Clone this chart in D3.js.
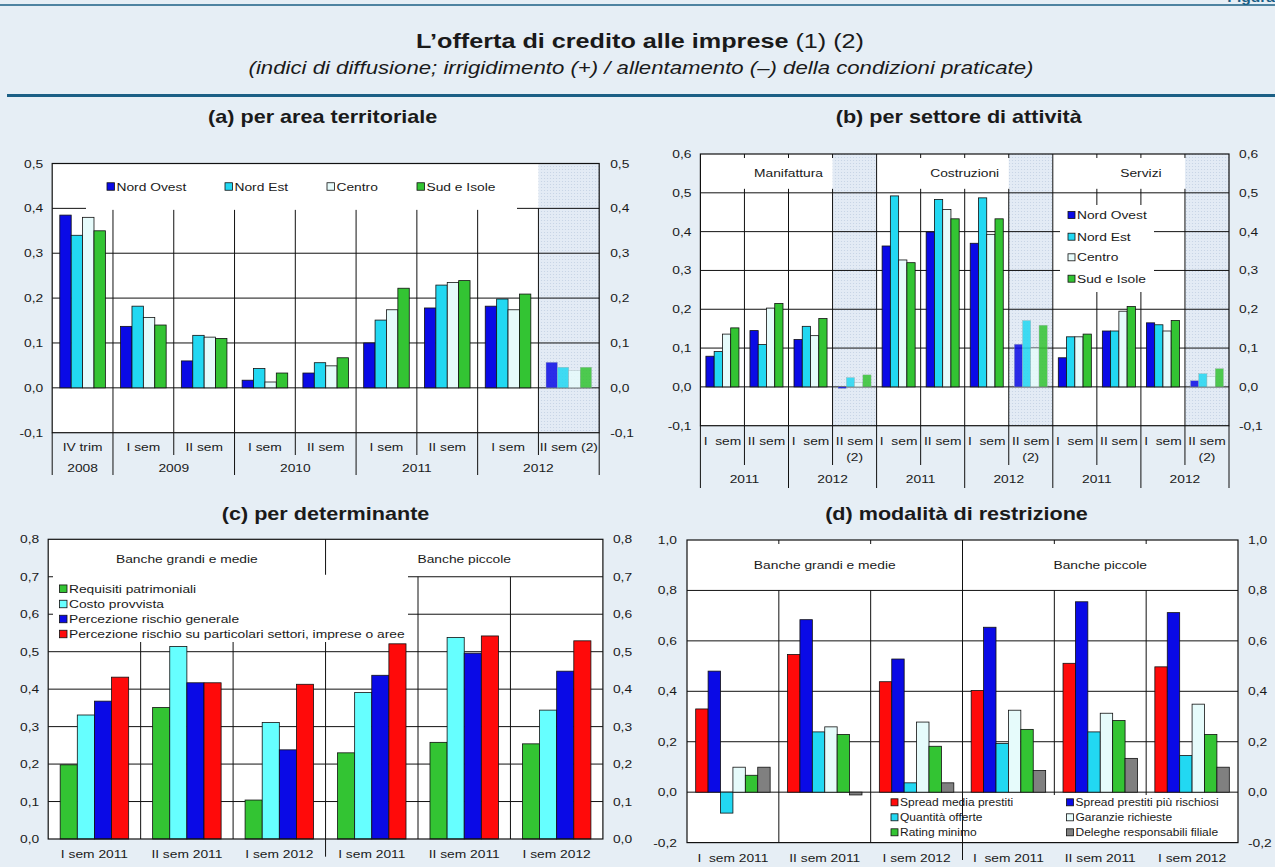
<!DOCTYPE html>
<html>
<head>
<meta charset="utf-8">
<script src="https://cdn.jsdelivr.net/npm/d3@7"></script>
<style>
  body { margin: 0; background: #e6eef5; }
  text { font-family: "Liberation Sans", Arial, sans-serif; fill: #1a1a1a; white-space: pre; }
</style>
</head>
<body>
<script>
// ---- (a) per area territoriale
const areaCats = ["IV trim", "I sem", "II sem", "I sem", "II sem", "I sem", "II sem", "I sem", "II sem (2)"];
const areaYears = ["2008", "2009", "2010", "2011", "2012"];
const areaYearOf = [0, 1, 1, 2, 2, 3, 3, 4, 4];
const regions = ["Nord Ovest", "Nord Est", "Centro", "Sud e Isole"];
const areaNordOvest = [0.385, 0.137, 0.060, 0.017, 0.033, 0.100, 0.178, 0.182, 0.057];
const areaNordEst   = [0.340, 0.182, 0.117, 0.043, 0.056, 0.151, 0.229, 0.198, 0.046];
const areaCentro    = [0.380, 0.157, 0.113, 0.013, 0.049, 0.174, 0.235, 0.174, 0.039];
const areaSud       = [0.350, 0.140, 0.110, 0.033, 0.067, 0.222, 0.239, 0.209, 0.046];
const areaTicks = [-0.1, 0, 0.1, 0.2, 0.3, 0.4, 0.5];

// ---- (b) per settore di attività
const sectors = ["Manifattura", "Costruzioni", "Servizi"];
const sectorSems = ["I  sem", "II sem", "I  sem", "II sem|(2)"];
const sectorYears = ["2011", "2012"];
const sectorNordOvest = [0.079, 0.145, 0.122, -0.004, 0.363, 0.399, 0.370, 0.110, 0.075, 0.144, 0.165, 0.016];
const sectorNordEst   = [0.091, 0.109, 0.156, 0.024, 0.492, 0.483, 0.487, 0.171, 0.129, 0.144, 0.160, 0.034];
const sectorCentro    = [0.136, 0.203, 0.132, 0.011, 0.327, 0.457, 0.393, 0.100, 0.129, 0.195, 0.144, 0.027];
const sectorSud       = [0.152, 0.215, 0.176, 0.031, 0.320, 0.433, 0.433, 0.159, 0.136, 0.207, 0.171, 0.047];
const sectorTicks = [-0.1, 0, 0.1, 0.2, 0.3, 0.4, 0.5, 0.6];

// ---- (c) per determinante
const bankGroups = ["Banche grandi e medie", "Banche piccole"];
const detCats = ["I sem 2011", "II sem 2011", "I sem 2012", "I sem 2011", "II sem 2011", "I sem 2012"];
const determinants = ["Requisiti patrimoniali", "Costo provvista", "Percezione rischio generale",
  "Percezione rischio su particolari settori, imprese o aree"];
const detRequisiti   = [0.198, 0.351, 0.104, 0.230, 0.258, 0.254];
const detCosto       = [0.331, 0.514, 0.311, 0.391, 0.538, 0.344];
const detRischioGen  = [0.368, 0.417, 0.238, 0.437, 0.496, 0.448];
const detRischioPart = [0.432, 0.417, 0.413, 0.521, 0.542, 0.529];
const detTicks = [0, 0.1, 0.2, 0.3, 0.4, 0.5, 0.6, 0.7, 0.8];

// ---- (d) modalità di restrizione
const modCats = ["I  sem 2011", "II sem 2011", "I sem 2012", "I  sem 2011", "II sem 2011", "I sem 2012"];
const modalities = ["Spread media prestiti", "Spread prestiti più rischiosi", "Quantità offerte",
  "Garanzie richieste", "Rating minimo", "Deleghe responsabili filiale"];
const modSpreadMedia     = [0.330, 0.546, 0.438, 0.403, 0.511, 0.497];
const modSpreadRischiosi = [0.480, 0.684, 0.528, 0.654, 0.755, 0.712];
const modQuantita        = [-0.083, 0.239, 0.037, 0.193, 0.239, 0.145];
const modGaranzie        = [0.099, 0.259, 0.278, 0.325, 0.313, 0.349];
const modRating          = [0.067, 0.229, 0.182, 0.249, 0.284, 0.229];
const modDeleghe         = [0.099, -0.011, 0.037, 0.086, 0.134, 0.099];
const modTicks = [-0.2, 0, 0.2, 0.4, 0.6, 0.8, 1.0];

// colours
const BLUE = "#0a0ae6", CYAN = "#22d8f2", PALE = "#e6fbfb", GREEN = "#33c433",
      LCYAN = "#66ffff", RED = "#ff0a0a", GREY = "#808080";
const LINE = "#111";

const W = 1275, H = 867;
const SX = 1.2; // the source picture is stretched sideways, text too

const svg = d3.select("body").append("svg")
  .attr("width", W).attr("height", H).style("display", "block");

svg.append("rect").attr("width", W).attr("height", H).attr("fill", "#e6eef5");

const defs = svg.append("defs");
const pat = defs.append("pattern").attr("id", "dots")
  .attr("width", 3).attr("height", 3).attr("patternUnits", "userSpaceOnUse");
pat.append("rect").attr("width", 3).attr("height", 3).attr("fill", "#e3ebf5");
pat.append("circle").attr("cx", 1.5).attr("cy", 1.5).attr("r", 0.55).attr("fill", "#c4d1e4");

function label(g, x, y, s, size, anchor = "middle") {
  return g.append("text")
    .attr("transform", `translate(${x},${y}) scale(${SX},1)`)
    .attr("text-anchor", anchor)
    .style("font-size", size + "px")
    .text(s);
}

function line(g, x1, y1, x2, y2, w = 1) {
  g.append("line").attr("x1", x1).attr("y1", y1).attr("x2", x2).attr("y2", y2)
    .attr("stroke", LINE).attr("stroke-width", w);
}

const fmt = v => d3.format(".1f")(v).replace(".", ",").replace("\u2212", "-");

function yLabels(g, y, ticks, x0, x1, dl, dr) {
  ticks.forEach(t => {
    label(g, x0 - dl, y(t) + 4, fmt(t), 11.5, "end");
    label(g, x1 + dr, y(t) + 4, fmt(t), 11.5, "start");
  });
}

function grid(g, y, ticks, x0, x1) {
  ticks.forEach(t => line(g, x0, y(t), x1, y(t)));
}

function bars(g, x, y, seriesList, colors, padOuter, shaded = []) {
  const sub = d3.scaleBand().domain(d3.range(seriesList.length))
    .range([0, x.bandwidth()]).paddingOuter(padOuter);
  seriesList.forEach((vals, s) => {
    g.append("g").selectAll("rect").data(vals).join("rect")
      .attr("x", (d, i) => x(i) + sub(s))
      .attr("width", sub.bandwidth())
      .attr("y", d => y(Math.max(0, d)))
      .attr("height", d => Math.abs(y(d) - y(0)))
      .attr("fill", colors[s])
      .attr("stroke", (d, i) => shaded.includes(i) ? "#9aa" : LINE)
      .attr("stroke-width", (d, i) => shaded.includes(i) ? 0.4 : 0.8)
      .attr("opacity", (d, i) => shaded.includes(i) ? 0.85 : 1);
  });
}

function legendItem(g, x, y, name, color, size, fs) {
  g.append("rect").attr("x", x).attr("y", y - size / 2).attr("width", size).attr("height", size)
    .attr("fill", color).attr("stroke", LINE).attr("stroke-width", 0.8);
  label(g, x + size + 2, y + fs * 0.36, name, fs, "start");
}

// ---- heading
svg.append("line").attr("x1", 0).attr("x2", W).attr("y1", 5).attr("y2", 5)
  .attr("stroke", "#1b5f85").attr("stroke-width", 1.5);
label(svg, 1275, 2, "Figura", 13, "end").style("font-weight", "bold").style("fill", "#1b5f85");
const title = svg.append("text")
  .attr("transform", `translate(640,48) scale(${SX},1)`)
  .attr("text-anchor", "middle").style("font-size", "21px");
title.append("tspan").style("font-weight", "bold").text("L\u2019offerta di credito alle imprese");
title.append("tspan").text(" (1) (2)");
label(svg, 641, 74, "(indici di diffusione; irrigidimento (+) / allentamento (\u2013) della condizioni praticate)", 18.5)
  .style("font-style", "italic");
svg.append("line").attr("x1", 7).attr("x2", W).attr("y1", 95.5).attr("y2", 95.5)
  .attr("stroke", "#1b5f85").attr("stroke-width", 3);

// ================= (a)
{
  const g = svg.append("g");
  const x0 = 52.2, x1 = 599.2;
  const x = d3.scaleBand().domain(d3.range(areaCats.length)).range([x0, x1]);
  const y = d3.scaleLinear().domain([-0.1, 0.5]).range([432.7, 163.5]);
  label(g, (x0 + x1) / 2 - 3, 123, "(a) per area territoriale", 18).style("font-weight", "bold");

  g.append("rect").attr("x", x0).attr("y", y(0.5)).attr("width", x1 - x0).attr("height", y(-0.1) - y(0.5))
    .attr("fill", "#fff");
  const shaded = [areaCats.length - 1];
  shaded.forEach(i => g.append("rect").attr("x", x(i)).attr("y", y(0.5))
    .attr("width", x.bandwidth()).attr("height", y(-0.1) - y(0.5)).attr("fill", "url(#dots)"));
  grid(g, y, [0, 0.1, 0.2, 0.3, 0.4], x0, x1);
  d3.range(1, areaCats.length).forEach(i => line(g, x(i), y(0.4), x(i), y(-0.1)));

  // legend sits over the top of the plot
  g.append("rect").attr("x", 86).attr("y", y(0.5) + 1).attr("width", 431).attr("height", y(0.4) - y(0.5) + 0.5)
    .attr("fill", "#fff");
  const legX = [107, 225, 327, 417];
  const cols = [BLUE, CYAN, PALE, GREEN];
  regions.forEach((r, i) => legendItem(g, legX[i], 186.5, r, cols[i], 7.5, 11.5));

  bars(g, x, y, [areaNordOvest, areaNordEst, areaCentro, areaSud], cols, 0.667, shaded);
  yLabels(g, y, areaTicks, x0, x1, 9, 11);
  g.append("rect").attr("x", x0).attr("y", y(0.5)).attr("width", x1 - x0).attr("height", y(-0.1) - y(0.5))
    .attr("fill", "none").attr("stroke", LINE).attr("stroke-width", 1.2);

  // category axis
  areaCats.forEach((c, i) => label(g, x(i) + x.bandwidth() / 2, 451, c, 11.5));
  d3.range(0, areaCats.length + 1).forEach(i => {
    const yearEdge = i === 0 || i === areaCats.length || areaYearOf[i] !== areaYearOf[i - 1];
    const xx = i === areaCats.length ? x1 : x(i);
    line(g, xx, y(-0.1), xx, yearEdge ? 475 : 455);
  });
  areaYears.forEach((yr, k) => {
    const idx = d3.range(areaCats.length).filter(i => areaYearOf[i] === k);
    const a = x(idx[0]), b = x(idx[idx.length - 1]) + x.bandwidth();
    label(g, (a + b) / 2, 472, yr, 11.5);
  });
}

// ================= (b)
{
  const g = svg.append("g");
  const x0 = 700.4, x1 = 1229;
  const n = sectors.length * sectorSems.length;
  const x = d3.scaleBand().domain(d3.range(n)).range([x0, x1]);
  const y = d3.scaleLinear().domain([-0.1, 0.6]).range([425.7, 154]);
  label(g, (x0 + x1) / 2 - 6, 123, "(b) per settore di attivit\u00e0", 18).style("font-weight", "bold");

  g.append("rect").attr("x", x0).attr("y", y(0.6)).attr("width", x1 - x0).attr("height", y(-0.1) - y(0.6))
    .attr("fill", "#fff");
  const shaded = d3.range(n).filter(i => i % 4 === 3);
  shaded.forEach(i => g.append("rect").attr("x", x(i)).attr("y", y(0.6))
    .attr("width", x.bandwidth()).attr("height", y(-0.1) - y(0.6)).attr("fill", "url(#dots)"));
  grid(g, y, [0, 0.1, 0.2, 0.3, 0.4, 0.5], x0, x1);
  d3.range(1, n).forEach(i => {
    if (i % 4 === 0) line(g, x(i), y(0.6), x(i), 488);
    else {
      line(g, x(i), y(0.5) - 4, x(i), y(-0.1));
      line(g, x(i), y(0.6), x(i), y(0.6) + 4);
    }
  });
  sectors.forEach((s, k) => label(g, x(k * 4) + x.bandwidth() * 2, 176.5, s, 11.5));

  g.append("rect").attr("x", 1060).attr("y", 205).attr("width", 94).attr("height", 87).attr("fill", "#fff");
  const cols = [BLUE, CYAN, PALE, GREEN];
  const legY = [215, 236.7, 257.3, 278.7];
  regions.forEach((r, i) => legendItem(g, 1068, legY[i], r, cols[i], 7, 11.5));

  bars(g, x, y, [sectorNordOvest, sectorNordEst, sectorCentro, sectorSud], cols, 0.667, shaded);
  yLabels(g, y, sectorTicks, x0, x1, 9, 10);
  g.append("rect").attr("x", x0).attr("y", y(0.6)).attr("width", x1 - x0).attr("height", y(-0.1) - y(0.6))
    .attr("fill", "none").attr("stroke", LINE).attr("stroke-width", 1.2);

  // category axis
  d3.range(n).forEach(i => {
    const parts = sectorSems[i % 4].split("|");
    const cx = x(i) + x.bandwidth() / 2;
    parts.forEach((p, j) => label(g, cx, 445 + j * 16, p, 11.5));
    if (i % 4 === 1 || i % 4 === 3) line(g, x(i), y(-0.1), x(i), 465);
    if (i % 4 === 2) line(g, x(i), y(-0.1), x(i), 488);
  });
  line(g, x0, y(-0.1), x0, 488);
  line(g, x1, y(-0.1), x1, 488);
  sectors.forEach((s, k) => sectorYears.forEach((yr, j) =>
    label(g, x(k * 4 + j * 2) + x.bandwidth(), 483, yr, 11.5)));
}

// ================= (c)
{
  const g = svg.append("g");
  const x0 = 48.2, x1 = 602.9;
  const x = d3.scaleBand().domain(d3.range(detCats.length)).range([x0, x1]);
  const y = d3.scaleLinear().domain([0, 0.8]).range([839, 539.3]);
  label(g, (x0 + x1) / 2, 520, "(c) per determinante", 18).style("font-weight", "bold");

  g.append("rect").attr("x", x0).attr("y", y(0.8)).attr("width", x1 - x0).attr("height", y(0) - y(0.8))
    .attr("fill", "#fff");
  grid(g, y, [0.1, 0.2, 0.3, 0.4, 0.5, 0.6, 0.7], x0, x1);
  d3.range(1, detCats.length).forEach(i => {
    if (i === 3) line(g, x(i), y(0.8), x(i), 856.7);
    else line(g, x(i), y(0.7), x(i), y(0));
  });
  bankGroups.forEach((b, k) => label(g, x(k * 3) + x.bandwidth() * 1.5, 562.5, b, 11.5));

  g.append("rect").attr("x", 53).attr("y", y(0.7) - 2).attr("width", 355).attr("height", 644 - y(0.7))
    .attr("fill", "#fff");
  const cols = [GREEN, LCYAN, BLUE, RED];
  const legY = [588.7, 604, 619, 634];
  determinants.forEach((d, i) => legendItem(g, 59.5, legY[i], d, cols[i], 7.5, 11.5));

  bars(g, x, y, [detRequisiti, detCosto, detRischioGen, detRischioPart], cols, 0.7);
  yLabels(g, y, detTicks, x0, x1, 9, 10);
  g.append("rect").attr("x", x0).attr("y", y(0.8)).attr("width", x1 - x0).attr("height", y(0) - y(0.8))
    .attr("fill", "none").attr("stroke", LINE).attr("stroke-width", 1.2);
  detCats.forEach((c, i) => label(g, x(i) + x.bandwidth() / 2, 857.5, c, 11.5));
}

// ================= (d)
{
  const g = svg.append("g");
  const x0 = 687, x1 = 1238;
  const x = d3.scaleBand().domain(d3.range(modCats.length)).range([x0, x1]);
  const y = d3.scaleLinear().domain([-0.2, 1.0]).range([842.6, 540]);
  label(g, (x0 + x1) / 2 - 6, 520, "(d) modalit\u00e0 di restrizione", 18).style("font-weight", "bold");

  g.append("rect").attr("x", x0).attr("y", y(1)).attr("width", x1 - x0).attr("height", y(-0.2) - y(1))
    .attr("fill", "#fff");
  grid(g, y, [0, 0.2, 0.4, 0.6, 0.8], x0, x1);
  d3.range(1, modCats.length).forEach(i => {
    if (i === 3) line(g, x(i), y(1), x(i), 860);
    else {
      line(g, x(i), y(0.8), x(i), y(-0.2));
      line(g, x(i), y(1), x(i), y(1) + 4);
    }
  });
  bankGroups.forEach((b, k) => label(g, x(k * 3) + x.bandwidth() * 1.5, 569, b, 11.5));

  const legLeft = x(2) + x.bandwidth() + 0.5;
  g.append("rect").attr("x", legLeft).attr("y", 795).attr("width", 1228 - legLeft).attr("height", y(-0.2) - 795 - 0.6)
    .attr("fill", "#fff");
  const cols = [RED, BLUE, CYAN, PALE, GREEN, GREY];
  const legColX = [891, 1066.5];
  const legRowY = [802.3, 817.3, 832.3];
  modalities.forEach((m, i) => legendItem(g, legColX[i % 2], legRowY[Math.floor(i / 2)], m, cols[i], 7, 10));

  bars(g, x, y, [modSpreadMedia, modSpreadRischiosi, modQuantita, modGaranzie, modRating, modDeleghe], cols, 0.7);
  yLabels(g, y, modTicks, x0, x1, 10, 10);
  g.append("rect").attr("x", x0).attr("y", y(1)).attr("width", x1 - x0).attr("height", y(-0.2) - y(1))
    .attr("fill", "none").attr("stroke", LINE).attr("stroke-width", 1.2);
  modCats.forEach((c, i) => label(g, x(i) + x.bandwidth() / 2, 862, c, 11.5));
}
</script>
</body>
</html>
